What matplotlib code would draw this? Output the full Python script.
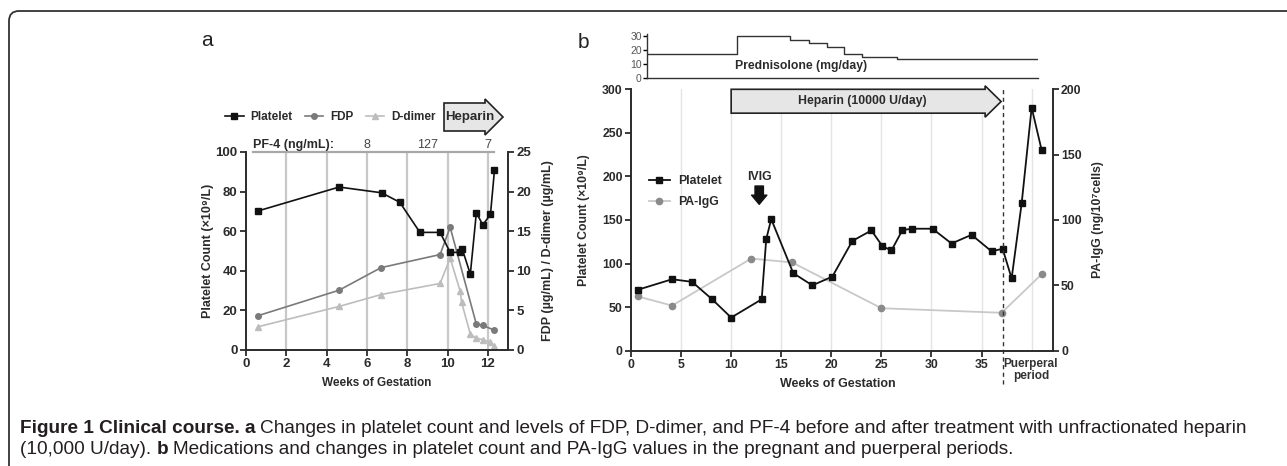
import matplotlib
matplotlib.use("Agg")
import matplotlib.pyplot as plt
from matplotlib.patches import Polygon, FancyBboxPatch

plt.rcParams['font.family'] = ['Liberation Sans', 'DejaVu Sans']
plt.rcParams['font.weight'] = 'bold'
plt.rcParams['axes.labelweight'] = 'bold'

# ---- panel a data ----
plt_a_weeks = [0.62, 4.62, 6.73, 7.63, 8.63, 9.63, 10.13, 10.63, 10.73, 11.13, 11.43, 11.75, 12.13, 12.33]
plt_a = [70.3, 82.3, 79.4, 74.6, 59.4, 59.4, 49.3, 49.3, 51.0, 38.3, 69.3, 63.2, 68.5, 91.0]
fdp_weeks = [0.62, 4.62, 6.7, 9.63, 10.13, 11.43, 11.75, 12.33]
fdp = [4.35, 7.55, 10.4, 12.05, 15.5, 3.25, 3.1, 2.5]
ddim_weeks = [0.62, 4.62, 6.7, 9.63, 10.13, 10.63, 10.7, 11.13, 11.43, 11.75, 12.13, 12.33]
ddim = [2.95, 5.5, 7.0, 8.4, 11.6, 7.4, 6.0, 2.0, 1.5, 1.3, 1.0, 0.5]
pf4_weeks = [6, 9, 12]
pf4 = ["8", "127", "7"]

# ---- panel b data ----
plt_b_weeks = [0.7, 4.1, 6.1, 8.1, 10, 13.05, 13.5, 14, 16.2, 18.1, 20.1, 22.1, 24, 25.1, 26,
               27.1, 28.1, 30.1, 32, 34, 36, 37.1, 38, 39, 40, 41]
plt_b = [70, 82, 79, 59, 38, 59, 128, 151, 89, 75, 85, 126, 138, 120, 115,
         138.5, 140, 140, 123, 133, 114, 117, 83, 169, 279, 230]
paigg_weeks = [0.7, 4.1, 12, 16.1, 25, 37, 41]
paigg = [41.5, 34.5, 70.5, 67.5, 32.5, 29, 58.5]
pred_weeks = [1.58, 10.5, 15.8, 17.7, 19.5, 21.2, 23.0, 26.5, 40.65]
pred_dose = [17.5, 30, 27.5, 25, 22.5, 17.5, 15, 14, 14]

W, H = 1287, 466
fig = plt.figure(figsize=(W / 100, H / 100), dpi=100)

def box(l, t, r, b):
    return [l / W, 1 - b / H, (r - l) / W, (b - t) / H]

# full-figure helper axes in pixel coords (y downward)
cap = fig.add_axes([0, 0, 1, 1], zorder=-1)
cap.set_xlim(0, W)
cap.set_ylim(H, 0)
cap.set_axis_off()

spc = '#2b2b2b'

def style(ax, sides, ls):
    for s in ['left', 'right', 'top', 'bottom']:
        ax.spines[s].set_visible(s in sides)
        ax.spines[s].set_linewidth(1.4)
        ax.spines[s].set_color(spc)
    ax.patch.set_visible(False)
    ax.tick_params(direction='out', length=4, width=1.3, color=spc, labelsize=ls,
                   labelcolor='#2b2b2b', pad=2)

# ================= panel a =================
ax_a = fig.add_axes(box(246, 152, 508, 350))
ax_a2 = ax_a.twinx()
ax_a.set_zorder(ax_a2.get_zorder() + 1)
style(ax_a, ['left', 'bottom'], 9.5)
style(ax_a2, ['right'], 9.5)
ax_a.set_xlim(0, 13)
ax_a.set_ylim(0, 100)
ax_a2.set_ylim(0, 25)
ax_a.set_xticks(range(0, 13, 2))
ax_a.set_yticks(range(0, 101, 20))
ax_a2.set_yticks(range(0, 26, 5))
for w in range(2, 13, 2):
    ax_a2.axvline(w, color='#c8c8c8', lw=1.6, zorder=0)
ax_a.plot([0.35, 12.3], [100, 100], color='#a8a8a8', lw=1.6, clip_on=False)

l_dd, = ax_a2.plot(ddim_weeks, ddim, color='#bdbdbd', lw=1.2, marker='^', ms=4, label='D-dimer')
l_fdp, = ax_a2.plot(fdp_weeks, fdp, color='#7a7a7a', lw=1.2, marker='o', ms=4, label='FDP')
l_pa, = ax_a.plot(plt_a_weeks, plt_a, color='#111111', lw=1.2, marker='s', ms=4.5, label='Platelet',
                  clip_on=False)

ax_a.set_xlabel('Weeks of Gestation', fontsize=8.5, color='#2b2b2b')
ax_a.xaxis.set_label_coords(0.5, -0.136)
ax_a.set_ylabel('Platelet Count (×10⁹/L)', fontsize=9, color='#2b2b2b')
ax_a.yaxis.set_label_coords(-0.124, 0.5)
ax_a2.set_ylabel('FDP (µg/mL) / D-dimer (µg/mL)', fontsize=9, color='#2b2b2b')
ax_a2.yaxis.set_label_coords(1.128, 0.5)

ax_a.text(0.35, 100.6, 'PF-4 (ng/mL):', fontsize=9, color='#2b2b2b', va='bottom')
for w, v in zip(pf4_weeks, pf4):
    ax_a.text(w, 100.6, v, fontsize=9, color='#444444', fontweight='normal', ha='center', va='bottom')

ax_a.legend(handles=[l_pa, l_fdp, l_dd], ncol=3, frameon=False, loc='center left',
            bbox_to_anchor=(214, 117), bbox_transform=cap.transData, fontsize=8.5,
            handlelength=1.6, handletextpad=0.6, columnspacing=1.0, labelcolor='#2b2b2b')

# heparin arrow (panel a)
cap.add_patch(Polygon([(444, 103), (485, 103), (485, 99), (503, 117), (485, 135), (485, 131), (444, 131)],
                      closed=True, fc='#e6e6e6', ec='#222222', lw=1.2))
cap.text(470, 117, 'Heparin', ha='center', va='center', fontsize=9.5, color='#2b2b2b')
cap.text(207, 41, 'a', ha='center', va='center', fontsize=15, fontweight='normal', color='#222222')

# ================= panel b =================
ax_b = fig.add_axes(box(631, 89.3, 1052.7, 350.7))
ax_b2 = ax_b.twinx()
ax_b.set_zorder(ax_b2.get_zorder() + 1)
style(ax_b, ['left', 'bottom'], 8.8)
style(ax_b2, ['right'], 8.8)
ax_b.set_xlim(0, 42.1)
ax_b.set_ylim(0, 300)
ax_b2.set_ylim(0, 200)
ax_b.set_xticks(range(0, 36, 5))
ax_b.set_yticks(range(0, 301, 50))
ax_b2.set_yticks(range(0, 201, 50))
for w in range(5, 41, 5):
    ax_b2.axvline(w, color='#e4e4e4', lw=1.0, zorder=0)

l_pg, = ax_b2.plot(paigg_weeks, paigg, color='#c8c8c8', lw=1.3, marker='o', ms=4.5,
                   mfc='#8a8a8a', mec='#8a8a8a', label='PA-IgG')
l_pb, = ax_b.plot(plt_b_weeks, plt_b, color='#111111', lw=1.3, marker='s', ms=5, label='Platelet')

ax_b.plot([37.1, 37.1], [-0.127, 1.0], transform=ax_b.get_xaxis_transform(), color='#333333',
          lw=1.0, ls=(0, (3, 2.5)), clip_on=False)

ax_b.add_patch(Polygon([(10, 272.6), (35.35, 272.6), (35.35, 268), (36.95, 286), (35.35, 304),
                        (35.35, 300), (10, 300)], closed=True, fc='#e6e6e6', ec='#222222', lw=1.2,
                       clip_on=False, zorder=3))
ax_b.text(23.1, 286.5, 'Heparin (10000 U/day)', ha='center', va='center', fontsize=8.8,
          color='#2b2b2b', zorder=4)

ax_b.annotate('', xy=(12.8, 168), xytext=(12.8, 189),
              arrowprops=dict(arrowstyle='simple,head_length=0.6,head_width=1.0,tail_width=0.55',
                              fc='#111111', ec='#111111', mutation_scale=11, shrinkA=0, shrinkB=0))
ax_b.text(12.8, 192, 'IVIG', ha='center', va='bottom', fontsize=8.8, color='#2b2b2b')

ax_b.legend(handles=[l_pb, l_pg], frameon=False, loc='upper left', bbox_to_anchor=(638, 164),
            bbox_transform=cap.transData, fontsize=8.8, handlelength=1.7, handletextpad=0.7,
            labelspacing=0.75, labelcolor='#2b2b2b')

ax_b.set_xlabel('Weeks of Gestation', fontsize=9, color='#2b2b2b')
ax_b.xaxis.set_label_coords(0.491, -0.104)
ax_b.set_ylabel('Platelet Count (×10⁹/L)', fontsize=8.8, color='#2b2b2b')
ax_b.yaxis.set_label_coords(-0.097, 0.5)
ax_b2.set_ylabel('PA-IgG (ng/10⁷cells)', fontsize=8.8, color='#2b2b2b')
ax_b2.yaxis.set_label_coords(1.093, 0.5)

cap.text(1031, 370, 'Puerperal\nperiod', ha='center', va='center', fontsize=8.5,
         linespacing=1.1, color='#333333')
cap.text(583, 42, 'b', ha='center', va='center', fontsize=15, fontweight='normal', color='#222222')

# prednisolone strip
ax_p = fig.add_axes(box(647.3, 34.3, 1038, 78.3))
for s in ['right', 'top']:
    ax_p.spines[s].set_visible(False)
for s in ['left', 'bottom']:
    ax_p.spines[s].set_linewidth(1.0)
    ax_p.spines[s].set_color('#333333')
ax_p.patch.set_visible(False)
ax_p.set_xlim(pred_weeks[0], pred_weeks[-1])
ax_p.set_ylim(0, 31.2)
ax_p.set_yticks([0, 10, 20, 30])
ax_p.set_xticks([])
ax_p.tick_params(axis='y', direction='out', length=3, width=1.0, labelsize=7.5, pad=1,
                 labelcolor='#555555')
for lb in ax_p.get_yticklabels():
    lb.set_fontweight('normal')
ax_p.plot(pred_weeks, pred_dose, drawstyle='steps-post', color='#333333', lw=1.0)
cap.text(801, 66, 'Prednisolone (mg/day)', ha='center', va='center', fontsize=8.8, color='#2b2b2b')

# ================= border + caption =================
cap.add_patch(FancyBboxPatch((9, 11), 1291, 470, boxstyle='round,pad=0,rounding_size=10',
                             fc='none', ec='#333333', lw=1.3))

cap_font = ['Liberation Sans', 'DejaVu Sans']
line1 = [('Figure 1 Clinical course.', 'bold'), ('a', 'bold'),
         ('Changes in platelet count and levels of FDP, D-dimer, and PF-4 before and after treatment '
          'with unfractionated heparin', 'normal')]
line2 = [('(10,000 U/day).', 'normal'), ('b', 'bold'),
         ('Medications and changes in platelet count and PA-IgG values in the pregnant and puerperal '
          'periods.', 'normal')]
fs0 = 10
pieces = []
for (parts, y) in [(line1, 437), (line2, 458)]:
    prev = cap.text(20, y, parts[0][0], fontsize=fs0, fontweight=parts[0][1], family=cap_font,
                    color='#231f20', va='bottom')
    pieces.append((prev, False))
    for txt, wt in parts[1:]:
        a = cap.annotate(txt, xy=(1, 0), xycoords=prev, xytext=(fs0 * 0.27, 0),
                         textcoords='offset points', fontsize=fs0, fontweight=wt, family=cap_font,
                         color='#231f20', va='bottom', annotation_clip=False)
        pieces.append((a, True))
        prev = a
    if y == 437:
        last1 = prev

fig.canvas.draw()
r = fig.canvas.get_renderer()
right = last1.get_window_extent(r).x1
scale = (1254 - 20) / (right - 20)
for p, is_ann in pieces:
    p.set_fontsize(fs0 * scale)
    if is_ann:
        p.xyann = (fs0 * scale * 0.27, 0)

fig.savefig('out.png', dpi=100, facecolor='white')
